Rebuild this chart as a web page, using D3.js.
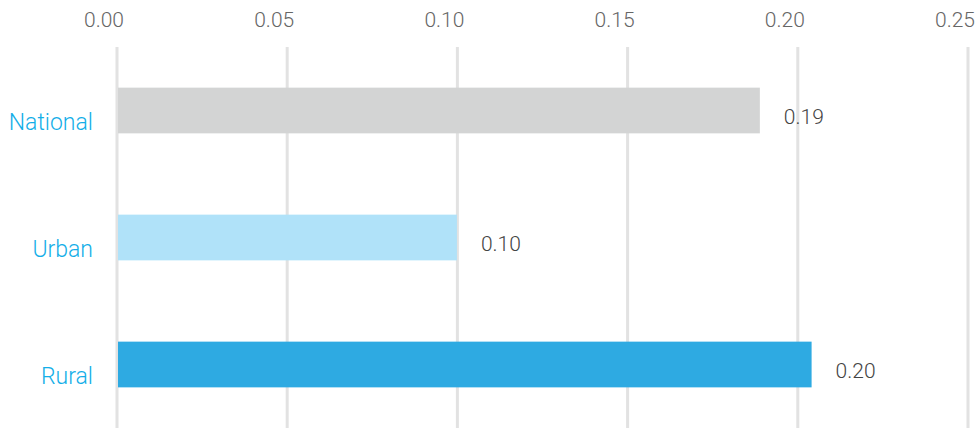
<!DOCTYPE html>
<html>
<head>
<meta charset="utf-8">
<script src="https://cdn.jsdelivr.net/npm/d3@7"></script>
<style>
  html, body { margin: 0; padding: 0; background: #fff; }
  svg { display: block; font-family: Roboto, "Helvetica Neue", Arial, sans-serif; }
</style>
</head>
<body>
<svg id="chart" width="977" height="428"></svg>
<script>
const categories = ["National", "Urban", "Rural"];
const values = [0.189, 0.100, 0.2042];
const valueLabels = ["0.19", "0.10", "0.20"];
const barColors = ["#d3d4d4", "#b0e2f9", "#2eaae2"];
const tickValues = [0.00, 0.05, 0.10, 0.15, 0.20, 0.25];

const W = 977, H = 428;
const svg = d3.select("#chart");

const x = d3.scaleLinear().domain([0, 0.25]).range([116.5, 967.5]);
const y = d3.scaleBand().domain(categories).range([47, 428]).paddingInner(0.64).paddingOuter(0.32);

// gridlines + tick labels via axis (behind bars)
const axis = d3.axisTop(x).tickValues(tickValues).tickFormat(d3.format(".2f")).tickSize(-(H - 47)).tickPadding(0);
const gAxis = svg.append("g").attr("transform", "translate(0,47)").call(axis);
gAxis.select(".domain").remove();
gAxis.selectAll(".tick line").attr("stroke", "#e2e2e2").attr("stroke-width", 3);
gAxis.selectAll(".tick text")
  .attr("x", -13)
  .attr("y", -20.3)
  .attr("dy", 0)
  .attr("fill", "#666")
  .attr("font-size", 21)
  .attr("font-weight", 300)
  .attr("font-family", "Roboto, sans-serif");

// bars
svg.append("g").selectAll("rect")
  .data(categories)
  .join("rect")
  .attr("x", x(0) + 1.5)
  .attr("y", d => y(d))
  .attr("width", (d, i) => x(values[i]) - x(0) - 1.5)
  .attr("height", y.bandwidth())
  .attr("fill", (d, i) => barColors[i]);

// category labels
svg.append("g").selectAll("text")
  .data(categories)
  .join("text")
  .attr("x", 93)
  .attr("y", d => y(d) + y.bandwidth() / 2 + 19)
  .attr("text-anchor", "end")
  .attr("fill", "#13aee8")
  .attr("font-size", 23)
  .attr("font-weight", 300)
  .text(d => d);

// value labels
svg.append("g").selectAll("text")
  .data(categories)
  .join("text")
  .attr("x", (d, i) => x(values[i]) + 24)
  .attr("y", d => y(d) + y.bandwidth() / 2 + 13)
  .attr("fill", "#444")
  .attr("font-size", 21)
  .attr("font-weight", 300)
  .text((d, i) => valueLabels[i]);
</script>
</body>
</html>
